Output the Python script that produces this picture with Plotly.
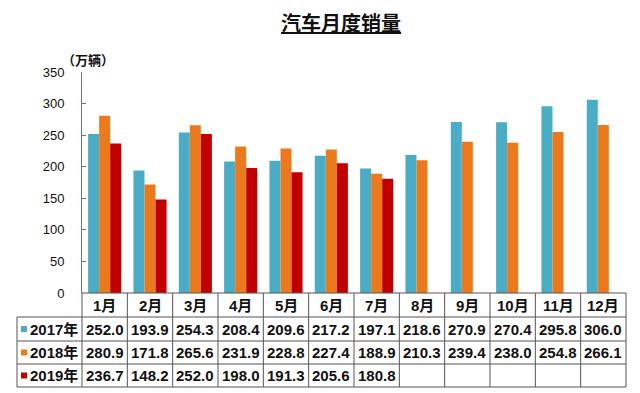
import plotly.graph_objects as go

months = ["1月", "2月", "3月", "4月", "5月", "6月", "7月", "8月", "9月", "10月", "11月", "12月"]
series_names = ["2017年", "2018年", "2019年"]
sales_2017 = [252.0, 193.9, 254.3, 208.4, 209.6, 217.2, 197.1, 218.6, 270.9, 270.4, 295.8, 306.0]
sales_2018 = [280.9, 171.8, 265.6, 231.9, 228.8, 227.4, 188.9, 210.3, 239.4, 238.0, 254.8, 266.1]
sales_2019 = [236.7, 148.2, 252.0, 198.0, 191.3, 205.6, 180.8, None, None, None, None, None]
y_ticks = [0, 50, 100, 150, 200, 250, 300, 350]
title_text = "汽车月度销量"
unit_text = "（万辆）"

colors = ["#4BACC6", "#EC7A1C", "#C00000"]
all_series = [sales_2017, sales_2018, sales_2019]

# page has an 8px body margin; figure covers page 8..640 x 8..393
OFF = 8
W, H = 640 - OFF, 393 - OFF
# plot area in page pixels
PL, PR, PT, PB = 82, 626, 72, 293
FONT = "Liberation Sans, Arial, Noto Sans CJK SC"


def px(x):
    return (x - PL) / (PR - PL)


def py(y):
    return (PB - y) / (PB - PT)


fig = go.Figure()
for name, vals, col in zip(series_names, all_series, colors):
    fig.add_trace(go.Bar(x=months, y=vals, name=name, marker_color=col,
                         marker_line_width=0))

row_lines = [293, 317, 341, 364, 387]
row_centers = [(row_lines[i] + row_lines[i + 1]) / 2 for i in range(4)]
table_left = 17
line_col = "#555555"
shapes = []
shapes.append(dict(type="line", xref="paper", yref="paper", x0=px(PL), x1=px(PR),
                   y0=py(293), y1=py(293), line=dict(color=line_col, width=1)))
for yl in row_lines[1:]:
    shapes.append(dict(type="line", xref="paper", yref="paper", x0=px(table_left), x1=px(PR),
                       y0=py(yl), y1=py(yl), line=dict(color=line_col, width=1)))
n = len(months)
colw = (PR - PL) / n
for i in range(n + 1):
    xx = PL + i * colw
    shapes.append(dict(type="line", xref="paper", yref="paper", x0=px(xx), x1=px(xx),
                       y0=py(293), y1=py(387), line=dict(color=line_col, width=1)))
shapes.append(dict(type="line", xref="paper", yref="paper", x0=px(table_left), x1=px(table_left),
                   y0=py(317), y1=py(387), line=dict(color=line_col, width=1)))

annotations = []
for i, m in enumerate(months):
    annotations.append(dict(x=m, xref="x", y=py(row_centers[0]), yref="paper", text="<b>%s</b>" % m,
                            showarrow=False, font=dict(size=15, color="#111111", family=FONT),
                            xanchor="center", yanchor="middle"))
for r, (name, vals, col) in enumerate(zip(series_names, all_series, colors)):
    yc = row_centers[r + 1]
    shapes.append(dict(type="rect", xref="paper", yref="paper", x0=px(21), x1=px(27),
                       y0=py(yc + 3), y1=py(yc - 3), fillcolor=col, line=dict(width=0)))
    annotations.append(dict(x=px(54), xref="paper", y=py(yc), yref="paper", text="<b>%s</b>" % name,
                            showarrow=False, font=dict(size=15, color="#111111", family=FONT),
                            xanchor="center", yanchor="middle"))
    for m, v in zip(months, vals):
        if v is None:
            continue
        annotations.append(dict(x=m, xref="x", y=py(yc), yref="paper", text="<b>%.1f</b>" % v,
                                showarrow=False, font=dict(size=15, color="#111111", family=FONT),
                                xanchor="center", yanchor="middle"))

annotations.append(dict(x=px(88), xref="paper", y=py(61), yref="paper", text="<b>%s</b>" % unit_text,
                        showarrow=False, font=dict(size=13, color="#111111", family=FONT),
                        xanchor="center", yanchor="middle"))

fig.update_layout(
    width=W, height=H,
    margin=dict(l=PL - OFF, r=W - (PR - OFF), t=PT - OFF, b=H - (PB - OFF), pad=0),
    paper_bgcolor="white", plot_bgcolor="white",
    barmode="group", bargap=0.27, bargroupgap=0,
    showlegend=False,
    title=dict(text="<b>%s</b>" % title_text, x=(341 - OFF) / W, xanchor="center",
               y=1 - (24 - OFF) / H, yanchor="middle", yref="container",
               font=dict(size=20, color="#111111", family="Noto Sans CJK SC", lineposition="under")),
    xaxis=dict(showticklabels=False, ticks="", showline=False, showgrid=False, zeroline=False,
               range=[-0.5, n - 0.5]),
    yaxis=dict(range=[0, 350], tickvals=y_ticks, showgrid=False, zeroline=False,
               showline=True, linecolor="#777777", linewidth=1,
               ticks="inside", ticklen=4, tickcolor="#777777",
               ticklabelstandoff=14,
               tickfont=dict(size=13, color="#111111", family=FONT)),
    shapes=shapes, annotations=annotations,
    font=dict(family=FONT),
)
fig.update_yaxes(tickprefix="<b>", ticksuffix="</b>")

fig.write_html("out.html")
